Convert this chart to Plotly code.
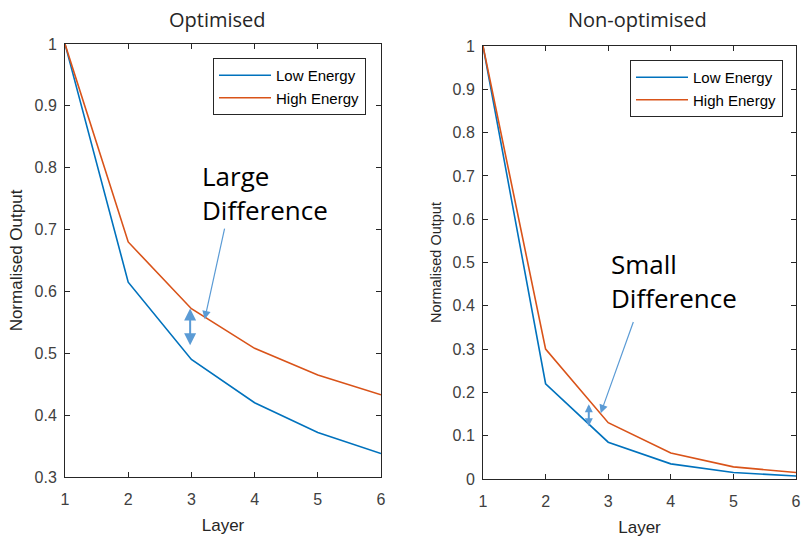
import plotly.graph_objects as go

layers = [1, 2, 3, 4, 5, 6]

opt_low = [1.0, 0.615, 0.490, 0.420, 0.372, 0.338]
opt_high = [1.0, 0.680, 0.572, 0.508, 0.465, 0.433]

nonopt_low = [1.0, 0.220, 0.085, 0.035, 0.015, 0.007]
nonopt_high = [1.0, 0.300, 0.130, 0.060, 0.028, 0.015]

panel_titles = ["Optimised", "Non-optimised"]
series_names = ["Low Energy", "High Energy"]

BLUE = "#0072BD"
ORANGE = "#D95319"
ARROW = "#5B9BD5"
W, H = 803, 537

fig = go.Figure()

def px_x(a, b):
    return [a / W, b / W]

def px_y(top, bottom):
    return [1 - bottom / H, 1 - top / H]

panels = [
    dict(low=opt_low, high=opt_high, xa="x", ya="y", legend="legend",
         xdom=px_x(65, 381), ydom=px_y(44, 477), yr=[0.3, 1.0], dt=0.1, lab=17),
    dict(low=nonopt_low, high=nonopt_high, xa="x2", ya="y2", legend="legend2",
         xdom=px_x(483, 796), ydom=px_y(46, 479), yr=[0.0, 1.0], dt=0.1, lab=14.5),
]

for p in panels:
    fig.add_trace(go.Scatter(x=layers, y=p["low"], mode="lines", name=series_names[0],
                             line=dict(color=BLUE, width=1.6),
                             xaxis=p["xa"], yaxis=p["ya"], legend=p["legend"]))
    fig.add_trace(go.Scatter(x=layers, y=p["high"], mode="lines", name=series_names[1],
                             line=dict(color=ORANGE, width=1.6),
                             xaxis=p["xa"], yaxis=p["ya"], legend=p["legend"]))

axis_common = dict(showline=True, linecolor="#262626", linewidth=1, mirror="ticks",
                   ticks="inside", ticklen=5, tickcolor="#262626", showgrid=False,
                   zeroline=False, automargin=False,
                   tickfont=dict(family="Liberation Sans, Arial", size=16, color="#404040"))

layout = dict(
    width=W, height=H, margin=dict(l=0, r=0, t=0, b=0),
    paper_bgcolor="white", plot_bgcolor="white", showlegend=True,
)
for i, p in enumerate(panels):
    sfx = "" if i == 0 else "2"
    lab_font = dict(family="Liberation Sans, Arial", size=p["lab"], color="#262626")
    layout["xaxis" + sfx] = dict(axis_common, domain=p["xdom"], range=[1, 6], dtick=1,
                                 anchor="y" + sfx, ticklabelstandoff=8,
                                 title=dict(text="Layer",
                                            font=dict(lab_font, size=17), standoff=11))
    layout["yaxis" + sfx] = dict(axis_common, domain=p["ydom"], range=p["yr"], dtick=p["dt"],
                                 anchor="x" + sfx, ticklabelstandoff=4,
                                 title=dict(text="Normalised Output", font=lab_font, standoff=7))
fig.update_layout(**layout)

leg_common = dict(bgcolor="white", bordercolor="#262626", borderwidth=1,
                  font=dict(family="Liberation Sans, Arial", size=15, color="#000000"),
                  xanchor="right", yanchor="top", tracegroupgap=0, itemwidth=52)
fig.update_layout(
    legend=dict(leg_common, x=366 / W, y=1 - 58 / H),
    legend2=dict(leg_common, x=783 / W, y=1 - 60 / H),
)

# panel titles
title_font = dict(family="Open Sans, Noto Sans", size=20, color="#262626")
for text, cx in zip(panel_titles, [218, 637]):
    fig.add_annotation(text=text, x=cx / W, y=1 - 19 / H, xref="paper", yref="paper",
                       showarrow=False, font=title_font, xanchor="center", yanchor="middle")

note_font = dict(family="Open Sans, Noto Sans", size=26, color="#000000")

# left panel callout
fig.add_annotation(text="Large<br>Difference", xref="paper", yref="paper",
                   x=200 / W, y=1 - 193 / H, xanchor="left", yanchor="middle",
                   align="left", showarrow=False, font=note_font)
fig.add_annotation(x=3.21, y=0.555, ax=3.53, ay=0.704, xref="x", yref="y",
                   axref="x", ayref="y", showarrow=True, arrowhead=2, arrowsize=1.4,
                   arrowwidth=1.2, arrowcolor=ARROW, text="")
fig.add_annotation(x=2.98, y=0.513, ax=2.98, ay=0.575, xref="x", yref="y",
                   axref="x", ayref="y", showarrow=True, arrowhead=2, startarrowhead=2,
                   arrowside="end+start", arrowsize=1.2, arrowwidth=2, arrowcolor=ARROW, text="")
# right panel callout
fig.add_annotation(text="Small<br>Difference", xref="paper", yref="paper",
                   x=609 / W, y=1 - 281 / H, xanchor="left", yanchor="middle",
                   align="left", showarrow=False, font=note_font)
fig.add_annotation(x=2.88, y=0.152, ax=3.41, ay=0.366, xref="x2", yref="y2",
                   axref="x2", ayref="y2", showarrow=True, arrowhead=2, arrowsize=1.4,
                   arrowwidth=1.2, arrowcolor=ARROW, text="")
fig.add_annotation(x=2.69, y=0.122, ax=2.69, ay=0.176, xref="x2", yref="y2",
                   axref="x2", ayref="y2", showarrow=True, arrowhead=2, startarrowhead=2,
                   arrowside="end+start", arrowsize=0.8, arrowwidth=2, arrowcolor=ARROW, text="")

fig.write_html("out.html")
